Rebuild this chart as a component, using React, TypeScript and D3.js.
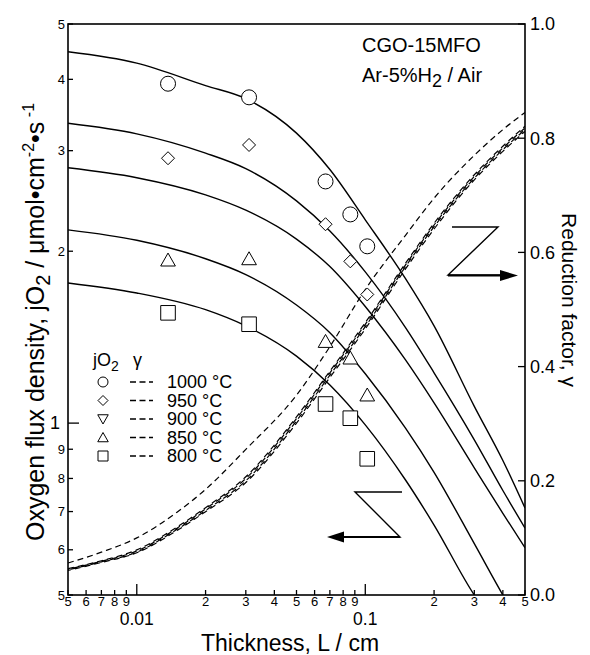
import React from "react";
import * as d3 from "d3";

// ---------- data ----------
const fluxL = [0.005, 0.01, 0.02, 0.03, 0.05, 0.07, 0.1, 0.15, 0.2, 0.3, 0.4, 0.5];
const flux1000 = [4.47, 4.27, 3.9, 3.7, 3.22, 2.78, 2.27, 1.79, 1.48, 1.07, 0.86, 0.71];
const flux950 = [3.35, 3.21, 2.97, 2.79, 2.45, 2.17, 1.84, 1.47, 1.225, 0.935, 0.762, 0.655];
const flux900 = [2.8, 2.69, 2.51, 2.36, 2.1, 1.88, 1.6, 1.29, 1.085, 0.835, 0.695, 0.605];
const flux850 = [2.18, 2.09, 1.94, 1.82, 1.61, 1.44, 1.22, 0.98, 0.82, 0.615, 0.5, 0.43];
const flux800 = [1.76, 1.69, 1.58, 1.48, 1.31, 1.166, 0.993, 0.795, 0.663, 0.5, 0.43, 0.37];

const gammaL = [0.005, 0.007, 0.01, 0.015, 0.02, 0.03, 0.05, 0.07, 0.1, 0.15, 0.2, 0.3, 0.4, 0.5];
const gamma1000 = [0.046, 0.06, 0.079, 0.119, 0.153, 0.207, 0.312, 0.392, 0.477, 0.581, 0.651, 0.736, 0.786, 0.821];
const gamma950 = [0.043, 0.057, 0.074, 0.113, 0.146, 0.197, 0.301, 0.381, 0.466, 0.571, 0.641, 0.727, 0.777, 0.812];
const gamma900 = [0.045, 0.059, 0.077, 0.117, 0.151, 0.204, 0.309, 0.389, 0.474, 0.578, 0.648, 0.733, 0.783, 0.818];
const gamma850 = [0.044, 0.058, 0.075, 0.115, 0.148, 0.2, 0.305, 0.385, 0.47, 0.575, 0.645, 0.73, 0.78, 0.815];
const gamma800 = [0.056, 0.075, 0.1, 0.145, 0.185, 0.255, 0.35, 0.435, 0.535, 0.63, 0.695, 0.77, 0.815, 0.845];

const markL = [0.0137, 0.031, 0.067, 0.086, 0.102];
const mark1000 = [3.93, 3.72, 2.65, 2.32, 2.04];
const mark950 = [2.91, 3.07, 2.23, 1.92, 1.68];
const mark850 = [1.93, 1.94, 1.39, 1.3, 1.12];
const mark800 = [1.56, 1.49, 1.08, 1.02, 0.866];

const legendLabels = ["1000 °C", "950 °C", "900 °C", "850 °C", "800 °C"];
const legendSymbols = ["circle", "diamond", "triDown", "triUp", "square"];

const xMinorTicks = [0.005, 0.006, 0.007, 0.008, 0.009, 0.02, 0.03, 0.04, 0.05, 0.06, 0.07, 0.08, 0.09, 0.2, 0.3, 0.4, 0.5];
const xMajorTicks = [0.01, 0.1];
const xMajorLabels = ["0.01", "0.1"];
const yMinorTicks = [0.5, 0.6, 0.7, 0.8, 0.9, 2, 3, 4, 5];
const yMajorTicks = [1];
const yRTicks = [0, 0.2, 0.4, 0.6, 0.8, 1.0];

// ---------- layout ----------
const W = 590, H = 655;
const L = 68, R = 525, T = 24, B = 595;
const FONT = "'Liberation Sans', Arial, Helvetica, sans-serif";

function symbolPath(type: string, cx: number, cy: number, s: number): string {
  switch (type) {
    case "circle":
      return `M${cx + s},${cy} A${s},${s} 0 1,1 ${cx - s},${cy} A${s},${s} 0 1,1 ${cx + s},${cy} Z`;
    case "diamond":
      return `M${cx},${cy - s} L${cx + s},${cy} L${cx},${cy + s} L${cx - s},${cy} Z`;
    case "square":
      return `M${cx - s},${cy - s} L${cx + s},${cy - s} L${cx + s},${cy + s} L${cx - s},${cy + s} Z`;
    case "triUp":
      return `M${cx},${cy - s} L${cx + s * 1.05},${cy + s * 0.85} L${cx - s * 1.05},${cy + s * 0.85} Z`;
    case "triDown":
      return `M${cx},${cy + s} L${cx + s * 1.05},${cy - s * 0.85} L${cx - s * 1.05},${cy - s * 0.85} Z`;
  }
  return "";
}

function digitLabel(v: number): string {
  const e = Math.floor(Math.log10(v) + 1e-9);
  return String(Math.round(v / Math.pow(10, e)));
}

export default function App() {
  const x = d3.scaleLog().domain([0.005, 0.5]).range([L, R]);
  const yL = d3.scaleLog().domain([0.5, 5]).range([B, T]);
  const yR = d3.scaleLinear().domain([0, 1]).range([B, T]);

  const fluxLine = d3
    .line<number>()
    .x((_, i) => x(fluxL[i]))
    .y((d) => yL(d))
    .curve(d3.curveMonotoneX);
  const gammaLine = d3
    .line<number>()
    .x((_, i) => x(gammaL[i]))
    .y((d) => yR(d))
    .curve(d3.curveMonotoneX);

  const fluxSeries = [flux1000, flux950, flux900, flux850, flux800];
  const gammaSeries = [gamma1000, gamma950, gamma900, gamma850, gamma800];
  const dashOffsets = [0, 3, 5, 7, 0];
  const marks: [number[], string, number][] = [
    [mark1000, "circle", 7.5],
    [mark950, "diamond", 6.5],
    [mark850, "triUp", 7],
    [mark800, "square", 7.3],
  ];

  const legendY = [382, 400.5, 419, 437.5, 456];

  return (
    <svg
      width={W}
      height={H}
      viewBox={`0 0 ${W} ${H}`}
      style={{ position: "absolute", left: 0, top: 0, background: "#fff" }}
      fontFamily={FONT}
    >
      <defs>
        <clipPath id="plotClip">
          <rect x={L} y={T} width={R - L} height={B - T} />
        </clipPath>
      </defs>
      <rect x={0} y={0} width={W} height={H} fill="#fff" />

      <g clipPath="url(#plotClip)">
        {gammaSeries.map((g, i) => (
          <path
            key={"g" + i}
            d={gammaLine(g) || ""}
            fill="none"
            stroke="#000"
            strokeWidth={1.2}
            strokeDasharray="6,4"
            strokeDashoffset={dashOffsets[i]}
          />
        ))}
        {fluxSeries.map((f, i) => (
          <path key={"f" + i} d={fluxLine(f) || ""} fill="none" stroke="#000" strokeWidth={1.4} />
        ))}
      </g>

      {marks.map(([vals, type, s], k) =>
        vals.map((v, i) => (
          <path
            key={`m${k}-${i}`}
            d={symbolPath(type, x(markL[i]), yL(v), s)}
            fill="#fff"
            stroke="#000"
            strokeWidth={1}
          />
        ))
      )}

      {/* frame */}
      <rect x={L} y={T} width={R - L} height={B - T} fill="none" stroke="#000" strokeWidth={1.6} />

      {/* x ticks */}
      {xMinorTicks.map((t) => (
        <g key={"xm" + t}>
          <line x1={x(t)} x2={x(t)} y1={B} y2={B - 5} stroke="#000" strokeWidth={1.3} />
          <text x={x(t)} y={B + 11} fontSize={13} textAnchor="middle">
            {digitLabel(t)}
          </text>
        </g>
      ))}
      {xMajorTicks.map((t, i) => (
        <g key={"xM" + t}>
          <line x1={x(t)} x2={x(t)} y1={B} y2={B - 11} stroke="#000" strokeWidth={1.3} />
          <text x={x(t)} y={B + 30} fontSize={17.5} textAnchor="middle">
            {xMajorLabels[i]}
          </text>
        </g>
      ))}

      {/* left y ticks */}
      {yMinorTicks.map((t) => (
        <g key={"ym" + t}>
          <line x1={L} x2={L + 5} y1={yL(t)} y2={yL(t)} stroke="#000" strokeWidth={1.3} />
          <text x={65} y={yL(t)} dy="0.35em" fontSize={13} textAnchor="end">
            {digitLabel(t)}
          </text>
        </g>
      ))}
      {yMajorTicks.map((t) => (
        <g key={"yM" + t}>
          <line x1={L} x2={L + 11} y1={yL(t)} y2={yL(t)} stroke="#000" strokeWidth={1.3} />
          <text x={60} y={yL(t)} dy="0.35em" fontSize={18} textAnchor="end">
            {String(t)}
          </text>
        </g>
      ))}

      {/* right y ticks */}
      {yRTicks.map((t) => (
        <g key={"yr" + t}>
          <line x1={R} x2={R - 7} y1={yR(t)} y2={yR(t)} stroke="#000" strokeWidth={1.3} />
          <text x={530} y={yR(t)} dy="0.35em" fontSize={18} textAnchor="start">
            {t.toFixed(1)}
          </text>
        </g>
      ))}

      {/* axis titles */}
      <text x={290} y={651} fontSize={23} textAnchor="middle">
        Thickness, L / cm
      </text>
      <text transform="translate(44,322) rotate(-90)" fontSize={25} textAnchor="middle">
        Oxygen flux density, jO
        <tspan dy={6} fontSize={20}>2</tspan>
        <tspan dy={-6}> / μmol•cm</tspan>
        <tspan dy={-10} fontSize={16}>-2</tspan>
        <tspan dy={10}>•s</tspan>
        <tspan dy={-10} fontSize={16}> -1</tspan>
      </text>
      <text transform="translate(562,300) rotate(90)" fontSize={21} textAnchor="middle">
        Reduction factor, γ
      </text>

      {/* annotation */}
      <text x={362} y={52} fontSize={20}>CGO-15MFO</text>
      <text x={362} y={82} fontSize={20}>
        Ar-5%H<tspan dy={5} fontSize={18}>2</tspan>
        <tspan dy={-5}> / Air</tspan>
      </text>

      {/* legend */}
      <text x={93} y={366} fontSize={18}>
        jO<tspan dy={5} fontSize={14}>2</tspan>
      </text>
      <text x={133} y={366} fontSize={18}>γ</text>
      {legendLabels.map((lab, i) => (
        <g key={"lg" + i}>
          <path
            d={symbolPath(legendSymbols[i], 103, legendY[i], 5)}
            fill="#fff"
            stroke="#000"
            strokeWidth={1}
          />
          <line x1={130} x2={153} y1={legendY[i]} y2={legendY[i]} stroke="#000" strokeWidth={1.3} strokeDasharray="6,3.5" />
          <text x={167} y={legendY[i]} dy="0.35em" fontSize={18}>
            {lab}
          </text>
        </g>
      ))}

      {/* Z arrows */}
      <polyline points="452,227 498,227 448,275 503,275" fill="none" stroke="#000" strokeWidth={1.4} />
      <line x1={448} x2={503} y1={275.5} y2={275.5} stroke="#000" strokeWidth={2} />
      <polygon points="500,270 518,275.5 500,281" fill="#000" />
      <polyline points="402,492 355,492 400,537 343,537" fill="none" stroke="#000" strokeWidth={1.4} />
      <line x1={400} x2={343} y1={537} y2={537} stroke="#000" strokeWidth={2} />
      <polygon points="344,531.5 327,537 344,542.5" fill="#000" />
    </svg>
  );
}
